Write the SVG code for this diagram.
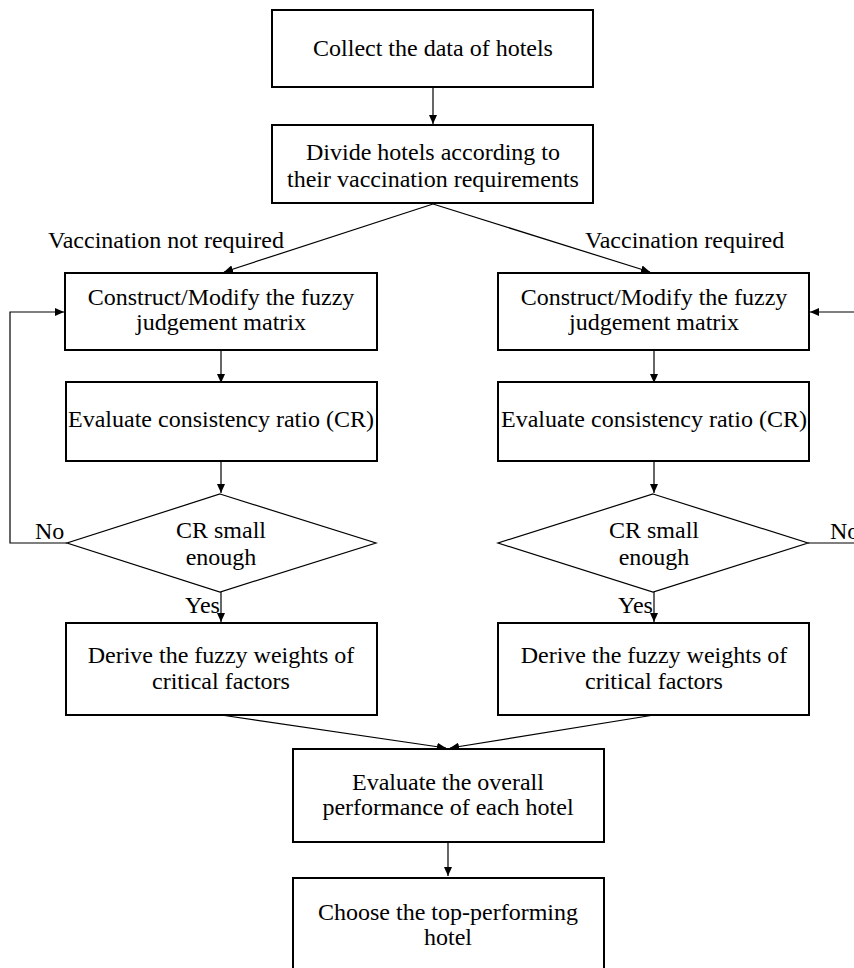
<svg xmlns="http://www.w3.org/2000/svg" width="854" height="968" viewBox="0 0 854 968">
<style>
.box{fill:#fff;stroke:#000;stroke-width:2}
.dia{fill:#fff;stroke:#000;stroke-width:1.2}
.t{font-family:"Liberation Serif","Times New Roman",serif;font-size:24px;fill:#000;text-anchor:middle}
.l{font-family:"Liberation Serif","Times New Roman",serif;font-size:24px;fill:#000}
.c{fill:none;stroke:#000;stroke-width:1.2}
</style>
<defs>
<marker id="ah" markerWidth="10" markerHeight="8" refX="9" refY="4" orient="auto" markerUnits="userSpaceOnUse">
<path d="M0,0 L9,4 L0,8 Z" fill="#000"/>
</marker>
</defs>
<rect width="854" height="968" fill="#fff"/>
<g id="connectors">
<path class="c" d="M433,88 L433,124" marker-end="url(#ah)"/>
<path class="c" d="M433,204 L224,272" marker-end="url(#ah)"/>
<path class="c" d="M433,204 L650,272" marker-end="url(#ah)"/>
<path class="c" d="M221,351 L221,383" marker-end="url(#ah)"/>
<path class="c" d="M654,351 L654,383" marker-end="url(#ah)"/>
<path class="c" d="M221,462 L221,493" marker-end="url(#ah)"/>
<path class="c" d="M654,462 L654,493" marker-end="url(#ah)"/>
<path class="c" d="M67,543 L10,543 L10,312 L64,312" marker-end="url(#ah)"/>
<path class="c" d="M808,543 L870,543 L870,312 L810,312" marker-end="url(#ah)"/>
<path class="c" d="M221,592 L221,622" marker-end="url(#ah)"/>
<path class="c" d="M654,592 L654,622" marker-end="url(#ah)"/>
<path class="c" d="M221,715 L446,748" marker-end="url(#ah)"/>
<path class="c" d="M654,715 L450,748" marker-end="url(#ah)"/>
<path class="c" d="M448,843 L448,876" marker-end="url(#ah)"/>
<text class="l" x="48" y="248">Vaccination not required</text>
<text class="l" x="585" y="248">Vaccination required</text>
<text class="l" x="35" y="539">No</text>
<text class="l" x="830" y="539">No</text>
<text class="l" x="185" y="613">Yes</text>
<text class="l" x="618" y="613">Yes</text>
</g>
<g id="collect">
<rect class="box" x="272" y="10" width="321" height="77"/>
<text class="t" x="433" y="56">Collect the data of hotels</text>
</g>
<g id="divide">
<rect class="box" x="272" y="125" width="321" height="78"/>
<text class="t" x="433" y="160">Divide hotels according to</text>
<text class="t" x="433" y="187">their vaccination requirements</text>
</g>
<g id="construct-left">
<rect class="box" x="65" y="273" width="312" height="77"/>
<text class="t" x="221" y="305">Construct/Modify the fuzzy</text>
<text class="t" x="221" y="330">judgement matrix</text>
</g>
<g id="construct-right">
<rect class="box" x="498" y="273" width="311" height="77"/>
<text class="t" x="654" y="305">Construct/Modify the fuzzy</text>
<text class="t" x="654" y="330">judgement matrix</text>
</g>
<g id="consistency-left">
<rect class="box" x="66" y="382" width="311" height="79"/>
<text class="t" x="221" y="427">Evaluate consistency ratio (CR)</text>
</g>
<g id="consistency-right">
<rect class="box" x="498" y="382" width="311" height="79"/>
<text class="t" x="654" y="427">Evaluate consistency ratio (CR)</text>
</g>
<g id="decision-left">
<polygon class="dia" points="220,494 376,543 220,592 67,543"/>
<text class="t" x="221" y="538">CR small</text>
<text class="t" x="221" y="565">enough</text>
</g>
<g id="decision-right">
<polygon class="dia" points="653,494 808,543 653,592 498,543"/>
<text class="t" x="654" y="538">CR small</text>
<text class="t" x="654" y="565">enough</text>
</g>
<g id="derive-left">
<rect class="box" x="66" y="623" width="311" height="92"/>
<text class="t" x="221" y="663">Derive the fuzzy weights of</text>
<text class="t" x="221" y="689">critical factors</text>
</g>
<g id="derive-right">
<rect class="box" x="498" y="623" width="311" height="92"/>
<text class="t" x="654" y="663">Derive the fuzzy weights of</text>
<text class="t" x="654" y="689">critical factors</text>
</g>
<g id="overall">
<rect class="box" x="293" y="749" width="311" height="93"/>
<text class="t" x="448" y="790">Evaluate the overall</text>
<text class="t" x="448" y="815">performance of each hotel</text>
</g>
<g id="choose">
<rect class="box" x="293" y="878" width="311" height="100"/>
<text class="t" x="448" y="920">Choose the top-performing</text>
<text class="t" x="448" y="945">hotel</text>
</g>
</svg>
